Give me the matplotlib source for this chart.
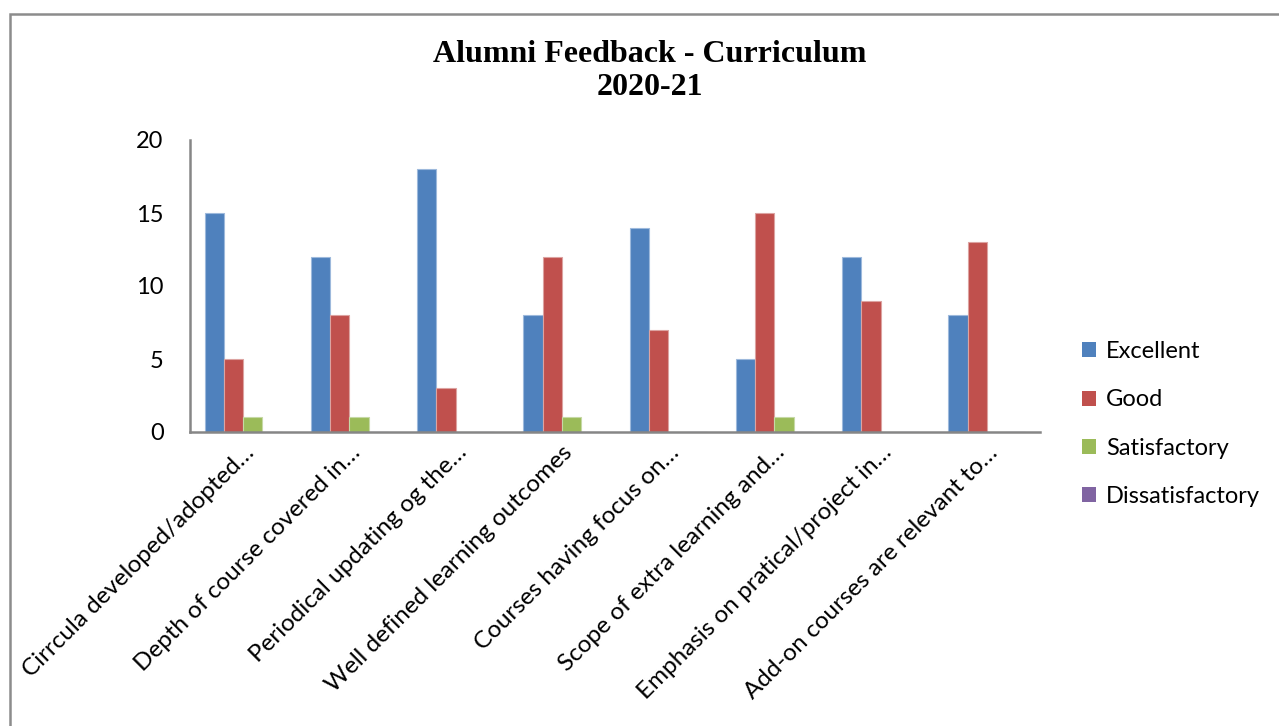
import matplotlib
matplotlib.use('Agg')
import matplotlib.pyplot as plt
import numpy as np
from matplotlib.patches import Rectangle, Patch

categories = [
    'Cirrcula developed/adopted…',
    'Depth of course covered in…',
    'Periodical updating og the…',
    'Well defined learning outcomes',
    'Courses having focus on…',
    'Scope of extra learning and…',
    'Emphasis on pratical/project in…',
    'Add-on courses are relevant to…',
]
series_names = ['Excellent', 'Good', 'Satisfactory', 'Dissatisfactory']
excellent = [15, 12, 18, 8, 14, 5, 12, 8]
good = [5, 8, 3, 12, 7, 15, 9, 13]
satisfactory = [1, 1, 0, 1, 0, 1, 0, 0]
dissatisfactory = [0, 0, 0, 0, 0, 0, 0, 0]
y_ticks = [0, 5, 10, 15, 20]

colors = ['#4F81BD', '#C0504D', '#9BBB59', '#8064A2']
edges = ['#9DB9DC', '#DCA3A1', '#C6D9A6', '#B5A5CA']

plt.rcParams['font.family'] = ['Lato', 'DejaVu Sans']

fig = plt.figure(figsize=(12.79, 7.26), dpi=100)
fig.patch.set_facecolor('white')

# outer frame, only left and top visible
fig.patches.append(Rectangle((10 / 1279, -0.1), 1.2, 1.1 - 14 / 726,
                             transform=fig.transFigure, fill=False,
                             edgecolor='#8C8C8C', linewidth=1.8))

ax = fig.add_axes([190 / 1279, 1 - 432 / 726, 850 / 1279, 292 / 726])

x = np.arange(len(categories))
w = 0.181
all_vals = [excellent, good, satisfactory, dissatisfactory]
for i, (vals, name) in enumerate(zip(all_vals, series_names)):
    ax.bar(x + (i - 1.5) * w, vals, width=w, color=colors[i],
           edgecolor=edges[i], linewidth=0.8, label=name, zorder=2)

ax.set_xlim(-0.5, len(categories) - 0.5)
ax.set_ylim(0, 20)
ax.set_yticks(y_ticks)
ax.tick_params(axis='y', length=0, pad=19, labelsize=17)
ax.tick_params(axis='x', length=0, pad=7, labelsize=17.5)
ax.set_xticks(x)
ax.set_xticklabels(categories, rotation=45, ha='right', rotation_mode='anchor')

for s in ['top', 'right']:
    ax.spines[s].set_visible(False)
for s in ['left', 'bottom']:
    ax.spines[s].set_color('#868686')
    ax.spines[s].set_linewidth(1.8)

fig.text(650 / 1279, 1 - 71 / 726, 'Alumni Feedback - Curriculum\n2020-21',
         ha='center', va='center', fontsize=23, fontweight='bold',
         family='Liberation Serif', linespacing=1.2)

handles = [Patch(facecolor=c, edgecolor='none') for c in colors]
fig.legend(handles, series_names, loc='center left',
           bbox_to_anchor=(1061 / 1279, 1 - 424 / 726), frameon=False,
           fontsize=17, handlelength=0.6, handleheight=0.6,
           handletextpad=0.4, labelspacing=1.15)

fig.savefig('out.png', dpi=100)
